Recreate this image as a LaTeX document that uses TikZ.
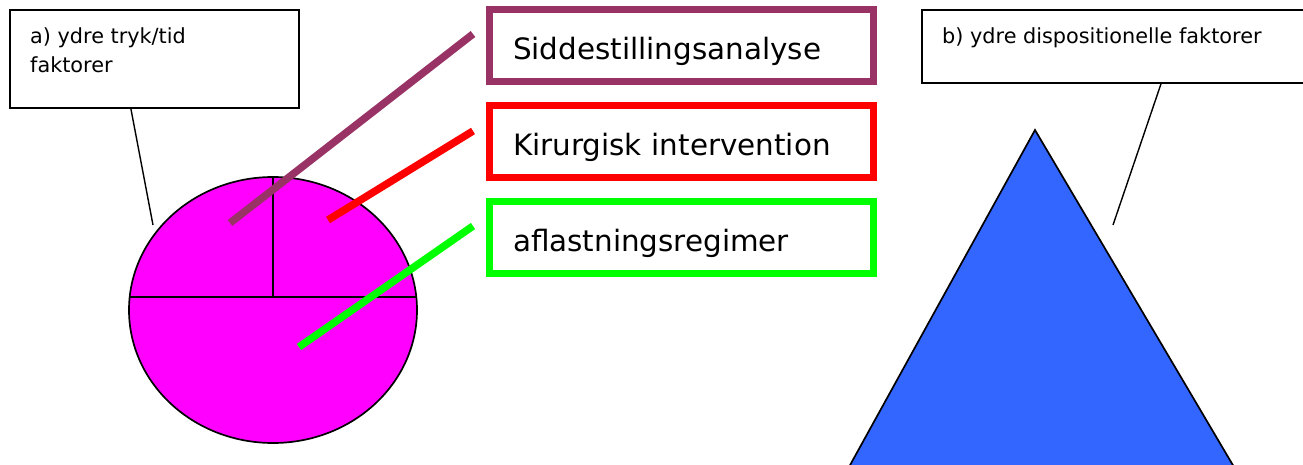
\documentclass[tikz,border=0pt]{standalone}
\usepackage{fontspec}
\setmainfont{DejaVu Sans}
\usepackage{tikz}
\usetikzlibrary{shapes}
\usetikzlibrary{positioning}
\definecolor{plum}{HTML}{993366}
\definecolor{pink}{HTML}{FF00FF}
\definecolor{lime}{HTML}{00FF00}
\definecolor{tblue}{HTML}{3366FF}
\tikzset{
    callbox/.style = {rectangle, draw=black, line width=1.8pt, fill=white, inner sep=0, anchor=north west},
    calltext/.style = {anchor=base west, inner sep=0, font=\fontsize{20.8}{29}\selectfont, align=left},
    tagbox/.style = {rectangle, line width=7pt, fill=white, minimum width=384pt, minimum height=72pt, text width=336pt, inner xsep=24pt, text height=27pt, text depth=0pt, align=left, font=\fontsize{29.4}{30}\selectfont, text=black},
    callline/.style = {-, line width=1.4pt, black},
    divline/.style = {-, line width=1.7pt, black},
    tagline/.style = {-, line width=7.5pt, line cap=butt},
}
\begin{document}
\begin{tikzpicture}[x=1pt,y=-1pt]
\useasboundingbox (0,0) rectangle (1303,465);

% left: pie
\node[callbox, minimum width=289pt, minimum height=98pt] at (9,9) (boxa) {};
\node[calltext] at (30,73) (texta) {a) ydre tryk/tid\\faktorer};
\node[ellipse, draw=black, line width=1.7pt, fill=pink, minimum width=288pt, minimum height=266pt, inner sep=0] at (273,310) (pie) {};
\draw[divline] ([shift={(-143.3pt,13pt)}]pie.center) -- ([shift={(143.3pt,13pt)}]pie.center);
\draw[divline] (pie.north) -- ([yshift=13pt]pie.center);
\coordinate (aend) at (153,225);
\draw[callline] ([xshift=-23.5pt]boxa.south) -- (aend);

% middle: tags
\node[tagbox, draw=plum] at (681,46) (sidd) {Siddestillingsanalyse};
\node[tagbox, draw=red] at (681,141.75) (kir) {Kirurgisk intervention};
\node[tagbox, draw=lime] at (681,237.5) (afl) {aflastningsregimer};

\coordinate (p0) at (473,34);  \coordinate (p1) at (230,223);
\coordinate (r0) at (473,131); \coordinate (r1) at (328,220);
\coordinate (g0) at (473,226); \coordinate (g1) at (299,347);
\draw[tagline, plum] (p0) -- (p1);
\draw[tagline, red] (r0) -- (r1);
\draw[tagline, lime] (g0) -- (g1);

% right: triangle
\node[callbox, minimum width=392pt, minimum height=73pt] at (921,9) (boxb) {};
\node[calltext] at (942,44) (textb) {b) ydre dispositionelle faktorer};
\draw[line width=1.7pt, fill=tblue] (849,467) -- (1035,130) -- (1234,467) -- cycle;
\coordinate (bend) at (1113,225);
\draw[callline] ([xshift=240pt]boxb.south west) -- (bend);

\end{tikzpicture}
\end{document}
